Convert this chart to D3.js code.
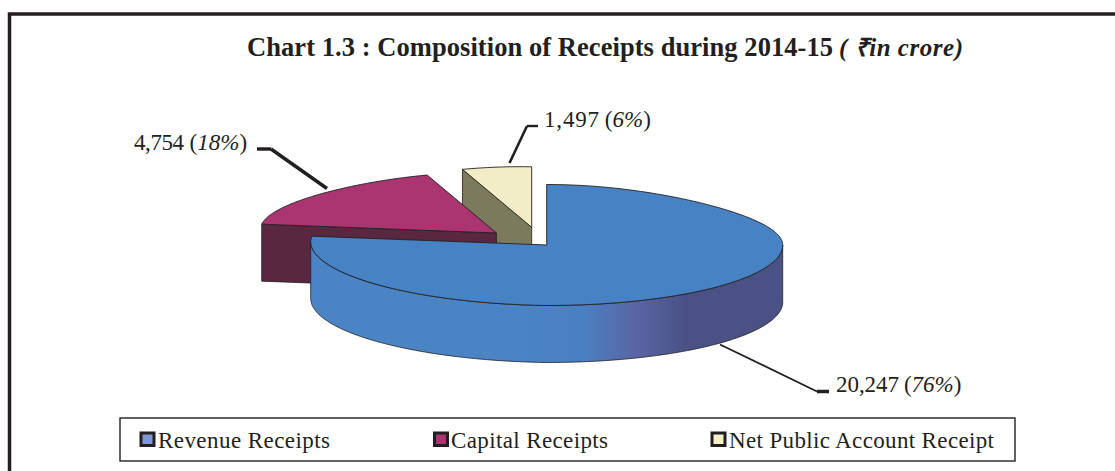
<!DOCTYPE html>
<html>
<head>
<meta charset="utf-8">
<script src="https://cdnjs.cloudflare.com/ajax/libs/d3/7.8.5/d3.min.js"></script>
<style>
html,body{margin:0;padding:0;background:#fff;}
svg{display:block;}
text{font-family:"Liberation Serif",serif;fill:#231f20;}
</style>
</head>
<body>
<svg id="chart" width="1115" height="471"></svg>
<script>
//chart data---------------------------
var categories=['Revenue Receipts','Capital Receipts','Net Public Account Receipt'];
var values=[20247,4754,1497];
var shares=[76,18,6];
var amountLabels=['20,247','4,754','1,497'];

//colours per slice
var topColors=['#4682c4','#ab3570','#f2edc6'];
var wallColors=['#4a84c4','#5a2740','#7c7a5c'];
var swatchColors=['#7f97d4','#ab3570','#f6f0c4'];
var ink='#231f20';

//layout
var cx=546.7,cy=245,rx=236,ry=60.5,depth=57;
var explode=[[0,0],[-50.3,-12],[-15,-17.7]];
var svg=d3.select('#chart');

//the pie is drawn by hand, back of the disc is squeezed to fake the perspective
function project(a){
  var s=Math.sin(a),c=Math.cos(a);
  var squeeze=c>0 ? 1/(1+0.21*c*c) : 1;
  var tilt=s<0 ? 3.5*s : 0;
  return [rx*s*squeeze,-ry*c+tilt];
}
function arcPoints(a0,a1){
  var n=Math.max(2,Math.ceil((a1-a0)*60));
  return d3.range(n+1).map(function(i){return project(a0+(a1-a0)*i/n);});
}
var line=d3.line();

var slices=d3.pie().sort(null).value(function(d){return d;})(values);

//gradient runs in the slice group's own coordinates, centre is 0
var defs=svg.append('defs');
var grad=defs.append('linearGradient').attr('id','blueWall')
  .attr('gradientUnits','userSpaceOnUse')
  .attr('x1',-rx).attr('x2',rx).attr('y1',0).attr('y2',0);
grad.append('stop').attr('offset','0.43').attr('stop-color',wallColors[0]);
grad.append('stop').attr('offset','0.575').attr('stop-color','#4a80c2');
grad.append('stop').attr('offset','0.683').attr('stop-color','#5a66a6');
grad.append('stop').attr('offset','0.79').attr('stop-color','#4a5285');
grad.append('stop').attr('offset','1').attr('stop-color','#4a5285');

//outer frame
svg.append('path')
  .attr('d','M9.5,471V14H1115')
  .attr('fill','none').attr('stroke',ink).attr('stroke-width',3.5);

//title
var title=svg.append('text').attr('x',247).attr('y',55.5).attr('font-size',26.5).attr('font-weight','bold');
title.append('tspan').attr('textLength',586).text('Chart 1.3 : Composition of Receipts during 2014-15');
title.append('tspan').attr('x',839).attr('font-style','italic').attr('font-size',25).attr('textLength',124).text('( \u20B9in crore)');

//slices, back ones first so the big one sits on top
var order=[2,1,0];
order.forEach(function(i){
  var d=slices[i];
  var g=svg.append('g').attr('transform','translate('+(cx+explode[i][0])+','+(cy+explode[i][1])+')');
  var rim=arcPoints(d.startAngle,d.endAngle);

  if(i==0){
    //outer wall, only the front half of the rim shows
    var front=arcPoints(Math.PI/2,Math.PI*1.5);
    var wall=front.concat(front.slice().reverse().map(function(p){return [p[0],p[1]+depth];}));
    g.append('path').attr('d',line(wall)+'Z')
      .attr('fill','url(#blueWall)').attr('stroke',ink).attr('stroke-width',0.8);
  }else{
    //cut face
    var edge=project(d.startAngle);
    var face=[[0,0],edge,[edge[0],edge[1]+depth],[0,depth]];
    g.append('path').attr('d',line(face)+'Z')
      .attr('fill',wallColors[i]).attr('stroke',ink).attr('stroke-width',0.8);
  }

  g.append('path').attr('d',line([[0,0]].concat(rim))+'Z')
    .attr('fill',topColors[i]).attr('stroke',ink).attr('stroke-width',0.9).attr('stroke-linejoin','round');
});

//leader lines
var leaders=[
  {pts:[[720,344.5],[817,391.5]],w:1.8,end:[[817,391.5],[829,391.5]],ew:3.5},
  {pts:[[327,188.5],[271,149]],w:3.4,end:[[271,149],[257,149]],ew:3.4},
  {pts:[[509.5,163],[527,126]],w:2.6,end:[[527,126],[538,126]],ew:2.4}
];
leaders.forEach(function(l){
  svg.append('path').attr('d',line(l.pts)).attr('fill','none').attr('stroke',ink).attr('stroke-width',l.w);
  svg.append('path').attr('d',line(l.end)).attr('fill','none').attr('stroke',ink).attr('stroke-width',l.ew);
});

//value labels
var labelPos=[[836,392],[134,150],[544,127]];
var labelGap=[5,6,5];
var labelLen=[63,50,55];
values.forEach(function(v,i){
  var t=svg.append('text').attr('x',labelPos[i][0]).attr('y',labelPos[i][1]).attr('font-size',23);
  t.append('tspan').attr('textLength',labelLen[i]).text(amountLabels[i]);
  t.append('tspan').attr('dx',labelGap[i]).text('(');
  t.append('tspan').attr('font-style','italic').text(shares[i]+'%');
  t.append('tspan').text(')');
});

//legend
svg.append('rect').attr('x',120).attr('y',418).attr('width',895).attr('height',43)
  .attr('fill','#fff').attr('stroke',ink).attr('stroke-width',1.4);
var swatchX=[139.5,433,710.5];
var legendX=[158,451,729];
var legendW=[172,157,265];
categories.forEach(function(c,i){
  svg.append('rect').attr('x',swatchX[i]+1.5).attr('y',433).attr('width',13).attr('height',12.5)
    .attr('fill',swatchColors[i]).attr('stroke',ink).attr('stroke-width',3);
  svg.append('text').attr('x',legendX[i]).attr('y',448).attr('font-size',23)
    .attr('textLength',legendW[i]).text(c);
});
</script>
</body>
</html>
